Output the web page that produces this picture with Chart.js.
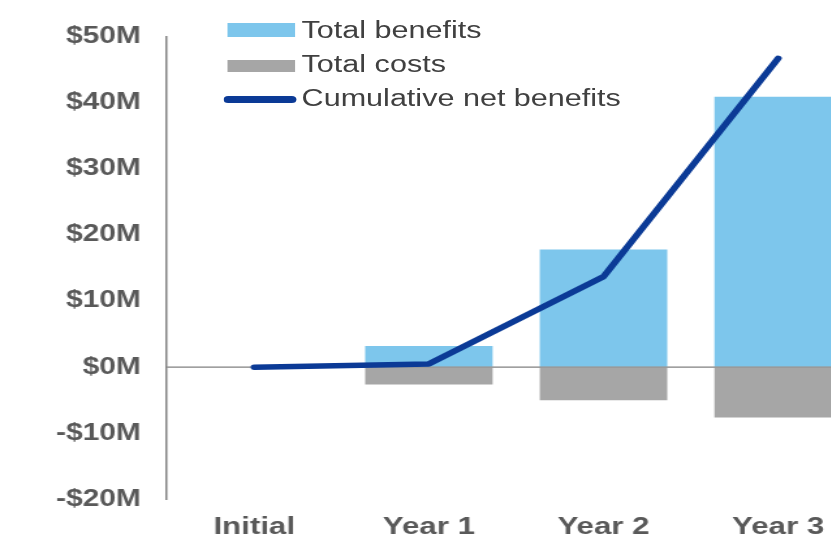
<!DOCTYPE html>
<html>
<head>
<meta charset="utf-8">
<script src="https://cdn.jsdelivr.net/npm/chart.js@4/dist/chart.umd.min.js"></script>
<style>
  html, body { margin: 0; padding: 0; background: #ffffff; overflow: hidden; width: 831px; height: 541px; }
  #wrap { position: absolute; left: 0; top: 0; width: 667.5px; height: 541px; transform: scaleX(1.3); transform-origin: 0 0; }
  #chart { display: block; }
  .lg-box { position: absolute; }
  .lg-text { position: absolute; font-family: 'Liberation Sans', Arial, sans-serif; font-size: 23.5px; line-height: 23px; color: #404040; white-space: nowrap; }
</style>
</head>
<body>
<div id="wrap">
  <canvas id="chart"></canvas>
  <div class="lg-box" style="left:175px; top:23px; width:52px; height:14px; background:#7dc6ec;"></div>
  <div class="lg-text" style="left:232px; top:18.5px;">Total benefits</div>
  <div class="lg-box" style="left:175px; top:60px; width:52px; height:12px; background:#a6a6a6;"></div>
  <div class="lg-text" style="left:232px; top:52.9px;">Total costs</div>
  <div class="lg-box" style="left:172px; top:96px; width:56px; height:7px; border-radius:4px; background:#0b3a96;"></div>
  <div class="lg-text" style="left:232px; top:86.9px;">Cumulative net benefits</div>
</div>
<script>
// ---- data (values in $M) ----
const categories = ['Initial', 'Year 1', 'Year 2', 'Year 3'];
const totalBenefits = [null, 3.2, 17.8, 40.9];
const totalCosts = [null, -2.6, -5.0, -7.6];
const cumulativeNetBenefits = [0, 0.5, 13.7, 46.7];
const yTickValues = [-20, -10, 0, 10, 20, 30, 40, 50];
const yTickLabels = ['-$20M', '-$10M', '$0M', '$10M', '$20M', '$30M', '$40M', '$50M'];

const zeroLinePlugin = {
  id: 'zeroLine',
  beforeDatasetDraw(chart, args) {
    if (args.meta.type !== 'line') return;
    const y = chart.scales.y.getPixelForValue(0);
    const a = chart.chartArea;
    const ctx = chart.ctx;
    ctx.save();
    ctx.strokeStyle = '#808080';
    ctx.lineWidth = 1.2;
    ctx.beginPath();
    ctx.moveTo(a.left, y);
    ctx.lineTo(a.right, y);
    ctx.stroke();
    ctx.restore();
  }
};

const yFont = { family: "'Liberation Sans', Arial, sans-serif", size: 23, weight: 'bold' };
const xFont = { family: "'Liberation Sans', Arial, sans-serif", size: 24, weight: 'bold' };

new Chart(document.getElementById('chart'), {
  type: 'bar',
  data: {
    labels: categories,
    datasets: [
      {
        type: 'line',
        label: 'Cumulative net benefits',
        data: cumulativeNetBenefits,
        borderColor: '#0b3a96',
        backgroundColor: '#0b3a96',
        borderWidth: 5.5,
        borderCapStyle: 'round',
        borderJoinStyle: 'round',
        pointRadius: 0,
        tension: 0,
        fill: false,
        stack: 'line',
        order: 0
      },
      {
        label: 'Total benefits',
        data: totalBenefits,
        backgroundColor: '#7dc6ec',
        borderWidth: 0,
        stack: 'bars',
        categoryPercentage: 1,
        barPercentage: 0.73,
        order: 1
      },
      {
        label: 'Total costs',
        data: totalCosts,
        backgroundColor: '#a6a6a6',
        borderWidth: 0,
        stack: 'bars',
        categoryPercentage: 1,
        barPercentage: 0.73,
        order: 1
      }
    ]
  },
  options: {
    responsive: true,
    maintainAspectRatio: false,
    animation: false,
    layout: { padding: { top: 36.5, left: 0, right: 0, bottom: 0 } },
    plugins: { legend: { display: false }, tooltip: { enabled: false } },
    scales: {
      x: {
        stacked: true,
        grid: { display: false, drawTicks: false },
        border: { display: false },
        ticks: { font: xFont, color: '#595959', padding: 13.3, maxRotation: 0 },
        afterFit(scale) { scale.height = 41.5; }
      },
      y: {
        stacked: true,
        min: yTickValues[0],
        max: yTickValues[yTickValues.length - 1],
        afterBuildTicks(scale) { scale.ticks = yTickValues.map(v => ({ value: v })); },
        grid: { display: true, color: 'rgba(0,0,0,0)', drawTicks: false },
        border: { display: true, color: '#808080', width: 1.5 },
        ticks: {
          font: yFont,
          color: '#595959',
          padding: 20,
          callback(value) {
            const i = yTickValues.indexOf(value);
            return i >= 0 ? yTickLabels[i] : '';
          }
        },
        afterFit(scale) { scale.width = 128.2; }
      }
    }
  },
  plugins: [zeroLinePlugin]
});
</script>
</body>
</html>
